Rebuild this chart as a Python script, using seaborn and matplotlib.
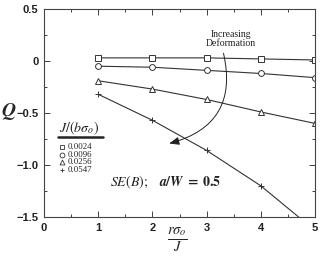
import matplotlib
matplotlib.use("Agg")
import matplotlib.pyplot as plt
import seaborn as sns
import pandas as pd
import numpy as np
from matplotlib.ticker import MultipleLocator

sns.set_theme(style="ticks")
plt.rcParams['font.family'] = ['Liberation Sans', 'DejaVu Sans']
plt.rcParams['mathtext.fontset'] = 'stix'

x_vals = [1, 2, 3, 4, 5]
series_labels = ["0.0024", "0.0096", "0.0256", "0.0547"]
q_0024 = [0.03, 0.03, 0.03, 0.02, 0.01]
q_0096 = [-0.05, -0.06, -0.09, -0.12, -0.16]
q_0256 = [-0.19, -0.27, -0.37, -0.49, -0.60]
q_0547 = [-0.32, -0.57, -0.86, -1.20, -1.63]

rows = []
for lab, vals in zip(series_labels, [q_0024, q_0096, q_0256, q_0547]):
    for xv, yv in zip(x_vals, vals):
        rows.append({"x": xv, "Q": yv, "J": lab})
df = pd.DataFrame(rows)

fig = plt.figure(figsize=(3.23, 2.58), dpi=100)
ax = fig.add_axes([44/323, 41/258, 271/323, 208/258])

markers = {"0.0024": "s", "0.0096": "o", "0.0256": "^", "0.0547": "+"}
for lab in series_labels:
    sub = df[df["J"] == lab]
    sns.lineplot(data=sub, x="x", y="Q", marker=markers[lab], color="#333333",
                 linewidth=0.8, markersize=4.2 if lab != "0.0547" else 4,
                 markerfacecolor="white", markeredgecolor="#333333", markeredgewidth=0.7,
                 legend=False, ax=ax)

ax.set_xlim(0, 5)
ax.set_ylim(-1.5, 0.5)
ax.xaxis.set_major_locator(MultipleLocator(1))
ax.xaxis.set_minor_locator(MultipleLocator(0.5))
ax.yaxis.set_minor_locator(MultipleLocator(0.25))
ax.set_yticks([0.5, 0, -0.5, -1.0, -1.5])
ax.set_yticklabels(["0.5", "0", "\u22120.5", "\u22121.0", "\u22121.5"])
ax.tick_params(which="both", direction="in", top=True, right=True, width=0.6,
               labelsize=8, pad=4, colors="#222222")
ax.tick_params(which="major", length=4)
ax.tick_params(which="minor", length=2.5)
for lbl in ax.get_xticklabels() + ax.get_yticklabels():
    lbl.set_fontweight("bold")
for sp in ax.spines.values():
    sp.set_linewidth(0.8)
    sp.set_color("#444444")
ax.set_xlabel("")
ax.set_ylabel("")

# Q label
fig.text(1/323, 1 - 112/258, r"$\boldsymbol{Q}$", fontsize=14, va="center", ha="left")

# x label fraction
fig.text(177/323, 1 - 226/258, r"$\frac{r\sigma_o}{J}$", fontsize=15, va="top", ha="center")

# legend block
ax.text(0.28, -0.65, r"$J/(b\sigma_o)$", fontsize=10, ha="left", va="center", color="#222222")
ax.plot([0.26, 1.09], [-0.735, -0.735], color="#222222", lw=1.8, clip_on=False)
leg_y = [-0.825, -0.90, -0.975, -1.05]
for lab, yy in zip(series_labels, leg_y):
    ax.plot([0.33], [yy], marker=markers[lab], ms=3.5, mfc="white", mec="#333333", mew=0.6,
            linestyle="none")
    ax.text(0.44, yy, lab, fontsize=6.3, family="Liberation Serif", va="center", ha="left",
            color="#222222")

ax.text(1.22, -1.17, r"$SE(B);\ \ \ \boldsymbol{a/W\ =\ 0.5}$", fontsize=10, ha="left",
        va="center", color="#222222")

ax.text(3.45, 0.21, "Increasing\nDeformation", fontsize=7, family="Liberation Serif",
        ha="center", va="center", linespacing=1.0, color="#222222")
ax.annotate("", xy=(2.26, -0.8), xytext=(3.3, 0.1),
            arrowprops=dict(arrowstyle="-|>,head_length=0.5,head_width=0.2", color="#222222",
                            lw=0.7, connectionstyle="arc3,rad=-0.5"))

fig.savefig("out.png", dpi=100)
